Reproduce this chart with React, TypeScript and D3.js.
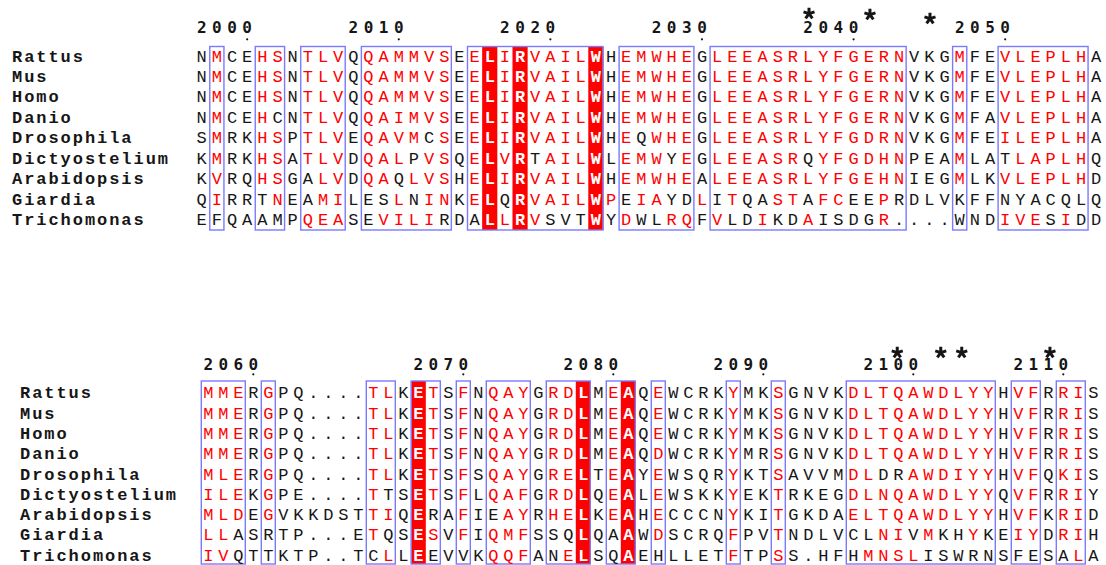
import React from "react";
import * as d3 from "d3";

// ---------- DATA ----------
const speciesNames = [
  "Rattus",
  "Mus",
  "Homo",
  "Danio",
  "Drosophila",
  "Dictyostelium",
  "Arabidopsis",
  "Giardia",
  "Trichomonas",
];

// Block 1 (residues 1997-2056 of the Rattus reference)
const block1Start = 1997;
const block1Sequences = [
  "NMCEHSNTLVQQAMMVSEELIRVAILWHEMWHEGLEEASRLYFGERNVKGMFEVLEPLHA",
  "NMCEHSNTLVQQAMMVSEELIRVAILWHEMWHEGLEEASRLYFGERNVKGMFEVLEPLHA",
  "NMCEHSNTLVQQAMMVSEELIRVAILWHEMWHEGLEEASRLYFGERNVKGMFEVLEPLHA",
  "NMCEHCNTLVQQAIMVSEELIRVAILWHEMWHEGLEEASRLYFGERNVKGMFAVLEPLHA",
  "SMRKHSPTLVEQAVMCSEELIRVAILWHEQWHEGLEEASRLYFGDRNVKGMFEILEPLHA",
  "KMRKHSATLVDQALPVSQELVRTAILWLEMWYEGLEEASRQYFGDHNPEAMLATLAPLHQ",
  "KVRQHSGALVDQAQLVSHELIRVAILWHEMWHEALEEASRLYFGEHNIEGMLKVLEPLHD",
  "QIRRTNEAMILESLNINKELQRVAILWPEIAYDLITQASTAFCEEPRDLVKFFNYACQLQ",
  "EFQAAMPQEASEVILIRDALLRVSVTWYDWLRQFVLDIKDAISDGR....WNDIVESIDD",
];
// '1' = similar residue (red letter), '0' = other (black letter)
const block1Similar = [
  "010011011101111110111111111011111011111111111110001001111110",
  "010011011101111110111111111011111011111111111110001001111110",
  "010011011101111110111111111011111011111111111110001001111110",
  "010010011101111110111111111011111011111111111110001001111110",
  "010011011101111010111111111010111011111111111110001001111110",
  "010011011101110110111101111011101011111101111110001000111110",
  "010011001101101110111111111011111011111111111110001001111110",
  "010001001100010110110111111101100101001101100100000000000000",
  "000000011100111100011110001010011010010010000100000001110100",
];
const block1Identical = [19, 21, 26];
const block1Boxes: [number, number][] = [
  [1, 1], [4, 5], [7, 9], [11, 16], [18, 26], [28, 32], [34, 46], [50, 50], [53, 58],
];
const block1Stars = [40.06, 44.08, 48.04];

// Block 2 (residues 2057-2113 of the Rattus reference)
const block2Start = 2057;
const block2Sequences = [
  "MMERGPQ....TLKETSFNQAYGRDLMEAQEWCRKYMKSGNVKDLTQAWDLYYHVFRRIS",
  "MMERGPQ....TLKETSFNQAYGRDLMEAQEWCRKYMKSGNVKDLTQAWDLYYHVFRRIS",
  "MMERGPQ....TLKETSFNQAYGRDLMEAQEWCRKYMKSGNVKDLTQAWDLYYHVFRRIS",
  "MMERGPQ....TLKETSFNQAYGRDLMEAQDWCRKYMRSGNVKDLTQAWDLYYHVFRRIS",
  "MLERGPQ....TLKETSFSQAYGRELTEAYEWSQRYKTSAVVMDLDRAWDIYYHVFQKIS",
  "ILEKGPE....TTSETSFLQAFGRDLQEALEWSKKYEKTRKEGDLNQAWDLYYQVFRRIY",
  "MLDEGVKKDSTTIQERAFIEAYRHELKEAHECCCNYKITGKDAELTQAWDLYYHVFKRID",
  "LLASRTP...ETQSESVFIQMFSSQLQAAWDSCRQFPVTNDLVCLNIVMKHYKEIYDRIH",
  "IVQTTKTP..TCLLEEVVKQQFANELSQAEHLLETFTPSS.HFHMNSLISWRNSFESALA",
];
const block2Similar = [
  "111010000001101101011101110110100001001000011111111110110110",
  "111010000001101101011101110110100001001000011111111110110110",
  "111010000001101101011101110110100001001000011111111110110110",
  "111010000001101101011101110110100001001000011111111110110110",
  "111010000001101101011101110110100001001000011001111110110110",
  "111010000001001101011101110110100001001000011111111110110110",
  "111010000001101001001101110110100001001000011111111110110110",
  "110000000001001101011100010010100001001000000110100100110110",
  "110000000000101000011100110010000001001000001111000000000010",
];
const block2Identical = [14, 25, 28];
const block2Boxes: [number, number][] = [
  [0, 2], [4, 4], [11, 12], [14, 15], [17, 17], [19, 21], [23, 25], [27, 28],
  [30, 30], [35, 35], [38, 38], [43, 52], [54, 55], [57, 58],
];
const block2Stars = [45.93, 48.83, 50.23, 56.11];

// ---------- LAYOUT ----------
const RED = "#ff0000";
const INK = "#161616";
const BOX = "#7a7aff";
const MONO = "'Liberation Mono', 'DejaVu Sans Mono', monospace";
const DIGITS = "'DejaVu Sans Mono', 'Liberation Mono', monospace";

type Layout = {
  x0: number;
  colW: number;
  labelX: number;
  boxTop: number;
  boxBottom: number;
  base0: number;
  rowH: number;
  numBase: number;
  dotY: number;
  starY: number[];
};

const layouts: Layout[] = [
  { x0: 201.7, colW: 15.16, labelX: 12, boxTop: 46.5, boxBottom: 230, base0: 61.6, rowH: 20.44, numBase: 33, dotY: 39.3, starY: [13, 14, 18] },
  { x0: 208.3, colW: 15.0, labelX: 20, boxTop: 381, boxBottom: 564, base0: 398.3, rowH: 20.3, numBase: 370, dotY: 374.3, starY: [352, 352, 352, 352] },
];

function asteriskPath(r: number) {
  const arms = d3.range(5).map((k) => ((-90 + k * 72) * Math.PI) / 180);
  return arms.map((a) => `M0,0L${(r * Math.cos(a)).toFixed(2)},${(r * Math.sin(a)).toFixed(2)}`).join("");
}

type BlockProps = {
  sequences: string[];
  similar: string[];
  identical: number[];
  boxes: [number, number][];
  start: number;
  stars: number[];
  layout: Layout;
};

function Block({ sequences, similar, identical, boxes, start, stars, layout }: BlockProps) {
  const nCols = sequences[0].length;
  const x = d3
    .scaleBand<number>()
    .domain(d3.range(nCols))
    .range([layout.x0 - layout.colW / 2, layout.x0 - layout.colW / 2 + nCols * layout.colW])
    .padding(0);
  const cx = d3
    .scaleLinear()
    .domain([0, nCols - 1])
    .range([layout.x0, layout.x0 + (nCols - 1) * layout.colW]);
  const yBase = d3
    .scaleLinear()
    .domain([0, sequences.length - 1])
    .range([layout.base0, layout.base0 + (sequences.length - 1) * layout.rowH]);
  const bw = x.bandwidth();
  const idSet = new Set(identical);

  // numbering from reference (first) sequence
  const numbers: { col: number; label: string }[] = [];
  let n = start - 1;
  sequences[0].split("").forEach((ch, i) => {
    if (/[A-Z]/.test(ch)) {
      n += 1;
      if (n % 10 === 0) numbers.push({ col: i, label: String(n) });
    }
  });

  const star = asteriskPath(5.8);

  return (
    <g>
      {identical.map((c) => (
        <rect
          key={"id" + c}
          x={x(c)}
          y={layout.boxTop}
          width={bw}
          height={layout.boxBottom - layout.boxTop}
          fill={RED}
        />
      ))}
      {boxes.map(([a, b], i) => (
        <rect
          key={"box" + i}
          x={(x(a) as number) + 0.5}
          y={layout.boxTop}
          width={(x(b) as number) + bw - (x(a) as number) - 1}
          height={layout.boxBottom - layout.boxTop}
          fill="none"
          stroke={BOX}
          strokeWidth={1.4}
        />
      ))}
      {numbers.map(({ col, label }) => (
        <g key={"num" + col}>
          {label.split("").map((d, k) => (
            <text
              key={k}
              x={cx(col - (label.length - 1) + k)}
              y={layout.numBase}
              textAnchor="middle"
              fontFamily={DIGITS}
              fontWeight="bold"
              fontSize={16}
              fill={INK}
            >
              {d}
            </text>
          ))}
          <circle cx={cx(col)} cy={layout.dotY} r={1.1} fill={INK} />
        </g>
      ))}
      {stars.map((c, i) => (
        <path
          key={"star" + i}
          d={star}
          transform={`translate(${cx(c)},${layout.starY[i] + 0.6})`}
          fill="none"
          stroke={INK}
          strokeWidth={3}
          strokeLinecap="butt"
        />
      ))}
      {sequences.map((seq, r) => (
        <g key={"row" + r}>
          <text
            x={layout.labelX}
            y={yBase(r)}
            fontFamily={MONO}
            fontWeight="bold"
            fontSize={17}
            letterSpacing={1.95}
            fill={INK}
          >
            {speciesNames[r]}
          </text>
          {seq.split("").map((ch, c) => {
            const isId = idSet.has(c);
            const isSim = similar[r][c] === "1";
            return (
              <text
                key={c}
                x={cx(c)}
                y={yBase(r)}
                textAnchor="middle"
                fontFamily={MONO}
                fontSize={17}
                fontWeight={isId ? "bold" : "normal"}
                fill={isId ? "#ffffff" : isSim ? RED : INK}
              >
                {ch}
              </text>
            );
          })}
        </g>
      ))}
    </g>
  );
}

export default function App() {
  return (
    <svg
      width={1106}
      height={565}
      style={{ position: "absolute", left: 0, top: 0, background: "#ffffff" }}
    >
      <Block
        sequences={block1Sequences}
        similar={block1Similar}
        identical={block1Identical}
        boxes={block1Boxes}
        start={block1Start}
        stars={block1Stars}
        layout={layouts[0]}
      />
      <Block
        sequences={block2Sequences}
        similar={block2Similar}
        identical={block2Identical}
        boxes={block2Boxes}
        start={block2Start}
        stars={block2Stars}
        layout={layouts[1]}
      />
    </svg>
  );
}
